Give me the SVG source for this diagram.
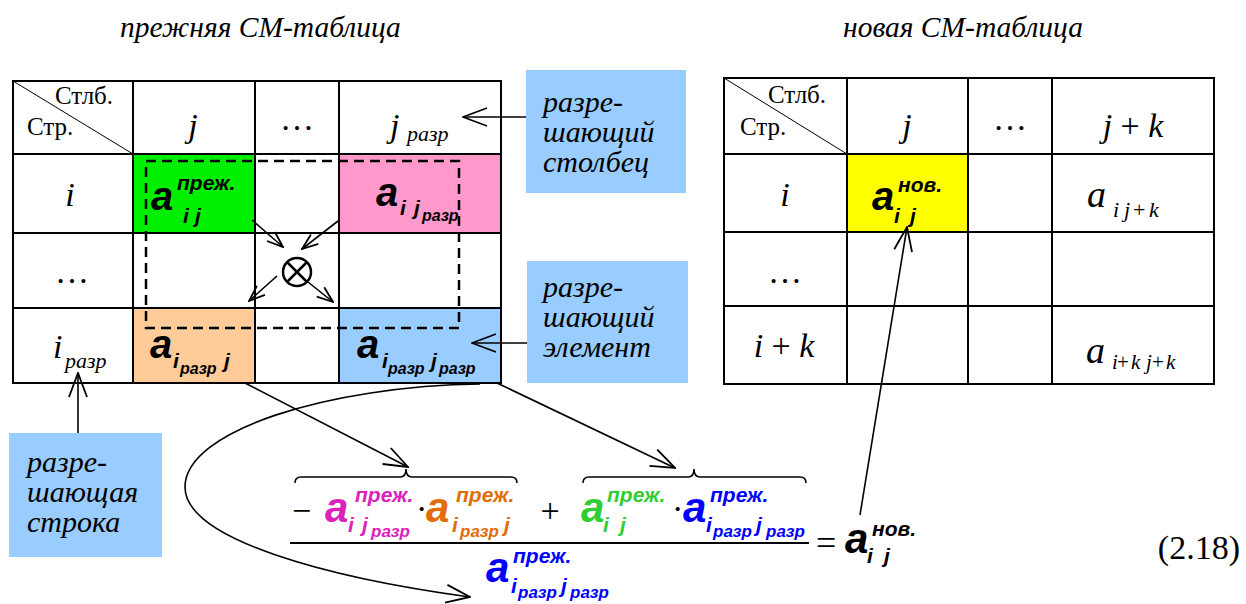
<svg xmlns="http://www.w3.org/2000/svg" width="1246" height="604" viewBox="0 0 1246 604">
<style>
.grid{stroke:#000;stroke-width:2;fill:none}
.diag{stroke:#000;stroke-width:1}
.ser{font-family:"Liberation Serif","Times New Roman",serif;fill:#000}
.it{font-style:italic}
.ab{font-family:"Liberation Sans",Arial,sans-serif;font-weight:bold;font-style:italic}
.big{font-size:34px}
.ca{font-size:40px}
.hdr{font-size:25px}
.sup{font-size:21px}
.sub2{font-size:16px}
.fa{font-size:42px}
.fs{font-size:21px}
.fr{font-size:17px}
.lbl{font-size:30px}
.conn{stroke:#000;stroke-width:1.6;fill:none}
.box{fill:#99ccff}
</style>
<defs>
<marker id="ah" viewBox="0 0 26 20" refX="25" refY="10" markerWidth="26" markerHeight="20" markerUnits="userSpaceOnUse" orient="auto">
<path d="M1,1 L25,10 L1,19" fill="none" stroke="#000" stroke-width="1.8"/>
</marker>
<marker id="ahs" viewBox="0 0 18 14" refX="17" refY="7" markerWidth="18" markerHeight="14" markerUnits="userSpaceOnUse" orient="auto">
<path d="M1,1 L17,7 L1,13" fill="none" stroke="#000" stroke-width="1.8"/>
</marker>
</defs>
<rect width="1246" height="604" fill="#fff"/>

<g id="titles">
<text class="ser it" x="120" y="37" font-size="29.5">прежняя СМ-таблица</text>
<text class="ser it" x="843" y="37" font-size="29.5">новая СМ-таблица</text>
</g>

<g id="old-table">
<rect x="133" y="154" width="122" height="79" fill="#00ee00"/>
<rect x="339" y="154" width="162" height="79" fill="#ff99cc"/>
<rect x="133" y="308" width="122" height="75" fill="#ffcc99"/>
<rect x="339" y="308" width="162" height="75" fill="#99ccff"/>
<line class="diag" x1="13" y1="81" x2="133" y2="154"/>
<path class="grid" d="M13,81 H501 V383 H13 Z M133,81 V383 M255,81 V383 M339,81 V383 M13,154 H501 M13,233 H501 M13,308 H501"/>
<text class="ser hdr" x="55" y="104">Стлб.</text>
<text class="ser hdr" x="27" y="135">Стр.</text>
<text class="ser it big" x="193" y="137" text-anchor="middle">j</text>
<text class="ser big" x="297" y="130" text-anchor="middle">…</text>
<text class="ser it big" x="390" y="137">j</text>
<text class="ser it" x="407" y="141" font-size="22">разр</text>
<text class="ser it big" x="70" y="206" text-anchor="middle">i</text>
<text class="ser big" x="72" y="283" text-anchor="middle">…</text>
<text class="ser it big" x="53" y="358">i</text>
<text class="ser it" x="65" y="368" font-size="22">разр</text>
<g id="a-ij-old" class="ab">
<text class="ca" x="151" y="210">a</text>
<text class="sup" x="177" y="190">преж.</text>
<text class="sup" x="183" y="223">i</text>
<text class="sup" x="195" y="223">j</text>
</g>
<g id="a-i-jr" class="ab">
<text class="ca" x="376" y="206">a</text>
<text class="sup" x="400" y="215">i</text>
<text class="sup" x="414" y="215">j</text>
<text class="sub2" x="422" y="221">разр</text>
</g>
<g id="a-ir-j" class="ab">
<text class="ca" x="150" y="358">a</text>
<text class="sup" x="173" y="368">i</text>
<text class="sub2" x="180" y="374">разр</text>
<text class="sup" x="224" y="368">j</text>
</g>
<g id="a-ir-jr" class="ab">
<text class="ca" x="357" y="358">a</text>
<text class="sup" x="382" y="368">i</text>
<text class="sub2" x="388" y="374">разр</text>
<text class="sup" x="431" y="368">j</text>
<text class="sub2" x="439" y="374">разр</text>
</g>
<rect x="146" y="161" width="313" height="167" fill="none" stroke="#000" stroke-width="2.5" stroke-dasharray="10,6"/>
<g id="otimes" fill="none" stroke="#000" stroke-width="2.5">
<circle cx="297" cy="272" r="14"/>
<line x1="287" y1="262" x2="307" y2="282"/>
<line x1="307" y1="262" x2="287" y2="282"/>
</g>
</g>

<g id="new-table">
<rect x="847" y="154" width="121" height="78" fill="#ffff00"/>
<line class="diag" x1="724" y1="78" x2="847" y2="154"/>
<path class="grid" d="M724,78 H1214 V384 H724 Z M847,78 V384 M968,78 V384 M1052,78 V384 M724,154 H1214 M724,232 H1214 M724,306 H1214"/>
<text class="ser hdr" x="768" y="103">Стлб.</text>
<text class="ser hdr" x="740" y="135">Стр.</text>
<text class="ser it big" x="907" y="137" text-anchor="middle">j</text>
<text class="ser big" x="1010" y="130" text-anchor="middle">…</text>
<text class="ser big" x="1133" y="137" text-anchor="middle"><tspan class="it">j</tspan> + <tspan class="it">k</tspan></text>
<text class="ser it big" x="785" y="206" text-anchor="middle">i</text>
<text class="ser big" x="785" y="283" text-anchor="middle">…</text>
<text class="ser big" x="784" y="357" text-anchor="middle"><tspan class="it">i</tspan> + <tspan class="it">k</tspan></text>
<g id="a-ij-new" class="ab">
<text class="ca" x="872" y="210">a</text>
<text class="sup" x="898" y="192">нов.</text>
<text class="sup" x="894" y="223">i</text>
<text class="sup" x="910" y="223">j</text>
</g>
<g id="a-i-jk" class="ser">
<text class="it" font-size="38" x="1087" y="207">a</text>
<text font-size="22" x="1113" y="217"><tspan class="it">i</tspan><tspan class="it" x="1124">j</tspan><tspan x="1133">+</tspan><tspan class="it" x="1149">k</tspan></text>
</g>
<g id="a-ik-jk" class="ser">
<text class="it" font-size="38" x="1086" y="363">a</text>
<text font-size="21" x="1112" y="369"><tspan class="it">i</tspan><tspan x="1117">+</tspan><tspan class="it" x="1131">k</tspan><tspan class="it" x="1146">j</tspan><tspan x="1152">+</tspan><tspan class="it" x="1166">k</tspan></text>
</g>
</g>

<g id="box-col">
<rect class="box" x="526" y="70" width="160" height="123"/>
<text class="ser it lbl" x="543" y="112">разре-</text>
<text class="ser it lbl" x="543" y="142">шающий</text>
<text class="ser it lbl" x="543" y="172">столбец</text>
</g>
<g id="box-elem">
<rect class="box" x="527" y="261" width="161" height="122"/>
<text class="ser it lbl" x="543" y="297">разре-</text>
<text class="ser it lbl" x="543" y="327">шающий</text>
<text class="ser it lbl" x="543" y="357">элемент</text>
</g>
<g id="box-row">
<rect class="box" x="9" y="433" width="153" height="124"/>
<text class="ser it lbl" x="27" y="472">разре-</text>
<text class="ser it lbl" x="27" y="502">шающая</text>
<text class="ser it lbl" x="27" y="532">строка</text>
</g>

<g id="formula">
<path class="conn" d="M295,483 Q295,477 301,477 H400 Q406,477 406,469 Q406,477 412,477 H511 Q517,477 517,483"/>
<path class="conn" d="M583,483 Q583,477 589,477 H688 Q694,477 694,469 Q694,477 700,477 H800 Q806,477 806,483"/>
<text class="ser" x="292" y="522" font-size="34">−</text>
<g fill="#dd22bb" class="ab">
<text class="fa" x="325" y="522">a</text>
<text class="fs" x="355" y="502">преж.</text>
<text class="fs" x="348" y="532">i</text>
<text class="fs" x="362" y="532">j</text>
<text class="fr" x="371" y="537">разр</text>
</g>
<text class="ser" x="416" y="520" font-size="34">·</text>
<g fill="#e36c0a" class="ab">
<text class="fa" x="426" y="522">a</text>
<text class="fs" x="456" y="502">преж.</text>
<text class="fs" x="452" y="532">i</text>
<text class="fr" x="460" y="537">разр</text>
<text class="fs" x="504" y="532">j</text>
</g>
<text class="ser" x="550" y="522" font-size="34" text-anchor="middle">+</text>
<g fill="#33cc33" class="ab">
<text class="fa" x="581" y="522">a</text>
<text class="fs" x="607" y="502">преж.</text>
<text class="fs" x="603" y="532">i</text>
<text class="fs" x="620" y="532">j</text>
</g>
<text class="ser" x="672" y="520" font-size="34">·</text>
<g fill="#0000ff" class="ab">
<text class="fa" x="683" y="522">a</text>
<text class="fs" x="710" y="502">преж.</text>
<text class="fs" x="706" y="532">i</text>
<text class="fr" x="713" y="537">разр</text>
<text class="fs" x="756" y="532">j</text>
<text class="fr" x="766" y="537">разр</text>
</g>
<line x1="290" y1="543" x2="809" y2="543" stroke="#000" stroke-width="1.8"/>
<g fill="#0000ff" class="ab">
<text class="fa" x="486" y="582">a</text>
<text class="fs" x="513" y="563">преж.</text>
<text class="fs" x="511" y="593">i</text>
<text class="fr" x="518" y="598">разр</text>
<text class="fs" x="561" y="593">j</text>
<text class="fr" x="570" y="598">разр</text>
</g>
<text class="ser" x="816" y="555" font-size="36">=</text>
<g fill="#000" class="ab">
<text class="fa" x="845" y="553">a</text>
<text class="fs" x="872" y="536">нов.</text>
<text class="fs" x="867" y="563">i</text>
<text class="fs" x="884" y="563">j</text>
</g>
<text class="ser" x="1240" y="559" font-size="34" text-anchor="end">(2.18)</text>
</g>

<g id="connectors">
<line class="conn" x1="526" y1="117" x2="463" y2="117" marker-end="url(#ah)"/>
<line class="conn" x1="527" y1="343" x2="472" y2="343" marker-end="url(#ah)"/>
<line class="conn" x1="78" y1="433" x2="78" y2="373" marker-end="url(#ah)"/>
<line class="conn" x1="245" y1="383" x2="408" y2="467" marker-end="url(#ah)"/>
<line class="conn" x1="497" y1="383" x2="675" y2="468" marker-end="url(#ah)"/>
<path class="conn" d="M480,384 C330,386 185,430 185,487 C185,540 330,578 470,597" marker-end="url(#ah)"/>
<line class="conn" x1="860" y1="515" x2="907" y2="227" marker-end="url(#ah)"/>
<line class="conn" x1="252" y1="220" x2="283" y2="247" marker-end="url(#ahs)"/>
<line class="conn" x1="338" y1="221" x2="302" y2="249" marker-end="url(#ahs)"/>
<line class="conn" x1="277" y1="276" x2="249" y2="301" marker-end="url(#ahs)"/>
<line class="conn" x1="308" y1="282" x2="333" y2="302" marker-end="url(#ahs)"/>
</g>
</svg>
